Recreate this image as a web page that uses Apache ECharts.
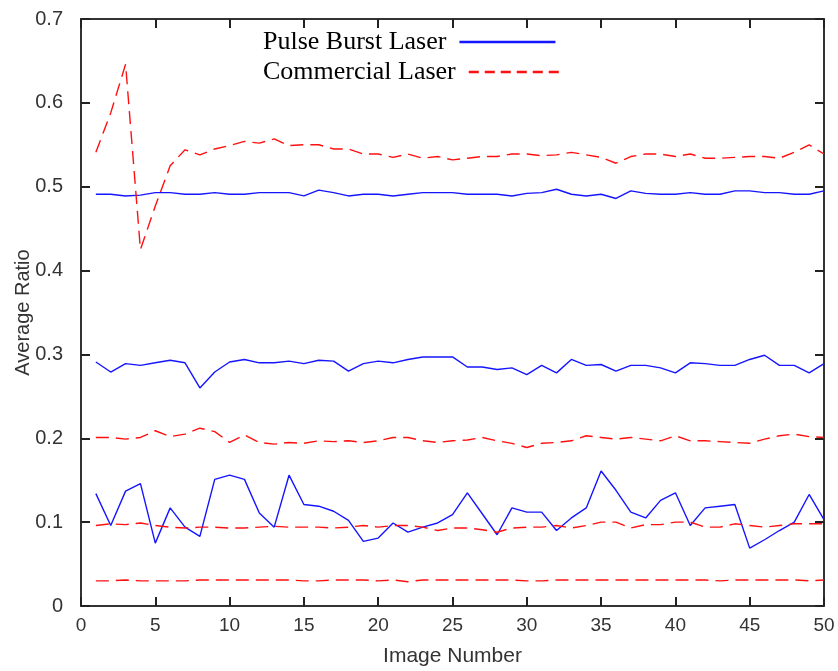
<!DOCTYPE html>
<head>
    <meta charset="utf-8">
    <title>Average Ratio</title>
    <script type="text/javascript" src="https://cdn.jsdelivr.net/npm/echarts@6/dist/echarts.min.js"></script>
</head>
<body style="margin:0;background:#fff">
    <div id="main" style="width:838px;height:671px"></div>

    <script type="text/javascript">
     // image numbers on x
     var imageNumber = [1,2,3,4,5,6,7,8,9,10,11,12,13,14,15,16,17,18,19,20,21,22,23,24,25,
                        26,27,28,29,30,31,32,33,34,35,36,37,38,39,40,41,42,43,44,45,46,47,48,49,50];

     // pulse burst laser (blue, solid)
     var pulseTop = [0.491,0.491,0.489,0.490,0.493,0.493,0.491,0.491,0.493,0.491,0.491,0.493,0.493,0.493,0.489,
                     0.496,0.493,0.489,0.491,0.491,0.489,0.491,0.493,0.493,0.493,0.491,0.491,0.491,0.489,0.492,
                     0.493,0.497,0.491,0.489,0.491,0.486,0.495,0.492,0.491,0.491,0.493,0.491,0.491,0.495,0.495,
                     0.493,0.493,0.491,0.491,0.495];
     var pulseMid = [0.291,0.279,0.289,0.287,0.290,0.293,0.290,0.260,0.279,0.291,0.294,0.290,0.290,0.292,0.289,
                     0.293,0.292,0.280,0.289,0.292,0.290,0.294,0.297,0.297,0.297,0.285,0.285,0.282,0.284,0.276,
                     0.287,0.278,0.294,0.287,0.288,0.280,0.287,0.287,0.284,0.278,0.290,0.289,0.287,0.287,0.294,
                     0.299,0.287,0.287,0.278,0.289];
     var pulseLow = [0.134,0.096,0.137,0.146,0.075,0.117,0.094,0.083,0.151,0.156,0.151,0.111,0.094,0.156,0.121,
                     0.119,0.113,0.102,0.077,0.081,0.099,0.088,0.094,0.099,0.109,0.135,0.110,0.085,0.117,0.112,
                     0.112,0.090,0.105,0.117,0.161,0.138,0.112,0.105,0.126,0.135,0.096,0.117,0.119,0.121,0.069,
                     0.079,0.090,0.100,0.133,0.103];

     // commercial laser (red, dashed)
     var commTop = [0.541,0.588,0.646,0.425,0.477,0.525,0.544,0.538,0.545,0.549,0.554,0.552,0.557,0.549,0.550,
                    0.550,0.545,0.545,0.539,0.539,0.535,0.539,0.534,0.536,0.532,0.534,0.536,0.536,0.539,0.539,
                    0.537,0.538,0.541,0.538,0.535,0.528,0.536,0.539,0.539,0.536,0.539,0.534,0.534,0.535,0.536,
                    0.536,0.534,0.541,0.550,0.539];
     var commMid = [0.201,0.201,0.199,0.201,0.209,0.202,0.205,0.212,0.208,0.195,0.204,0.195,0.193,0.195,0.194,
                    0.197,0.196,0.197,0.195,0.197,0.201,0.201,0.197,0.195,0.197,0.198,0.201,0.197,0.194,0.189,
                    0.194,0.195,0.197,0.203,0.201,0.199,0.201,0.199,0.197,0.203,0.197,0.197,0.196,0.195,0.194,
                    0.199,0.203,0.205,0.202,0.201];
     var commLow = [0.096,0.098,0.097,0.099,0.096,0.094,0.093,0.094,0.094,0.093,0.093,0.094,0.095,0.094,0.094,
                    0.094,0.093,0.094,0.096,0.094,0.096,0.096,0.094,0.090,0.093,0.093,0.091,0.088,0.093,0.094,
                    0.094,0.096,0.093,0.096,0.100,0.100,0.093,0.097,0.097,0.100,0.100,0.094,0.094,0.098,0.096,
                    0.094,0.096,0.098,0.098,0.098];
     var commBase = [0.030,0.030,0.031,0.030,0.030,0.030,0.030,0.031,0.031,0.031,0.031,0.031,0.031,0.031,0.030,
                     0.030,0.031,0.031,0.031,0.030,0.031,0.029,0.031,0.031,0.031,0.031,0.031,0.031,0.031,0.030,
                     0.030,0.031,0.031,0.031,0.031,0.031,0.031,0.031,0.031,0.031,0.031,0.031,0.030,0.031,0.031,
                     0.031,0.031,0.031,0.030,0.031];

     function pairs(ys) {
         return imageNumber.map(function (x, i) { return [x, ys[i]]; });
     }

     var blue = '#1515ff';
     var red = '#ff1010';
     var labelFont = '"Liberation Sans", sans-serif';

     function lineSeries(name, ys, color, dashed) {
         return {
             name: name,
             type: 'line',
             data: pairs(ys),
             symbol: 'none',
             lineStyle: { color: color, width: 1.4, type: dashed ? [13, 7] : 'solid' },
             itemStyle: { color: color }
         };
     }

     function legendFor(name, top, dash) {
         return {
             orient: 'horizontal',
             align: 'right',
             left: 258,
             top: top,
             itemWidth: 96,
             itemHeight: 14,
             itemStyle: { opacity: 0 },
             lineStyle: { width: 2.5, type: dash },
             textStyle: { fontFamily: '"Liberation Serif", serif', fontSize: 26, color: '#000', padding: [0, 8, 0, 0] },
             data: [name]
         };
     }

     function axisLine() {
         return { show: true, onZero: false, lineStyle: { color: '#333', width: 2 } };
     }
     // ticks pointing into the plot box
     function tick() {
         return { show: true, inside: true, length: 9, lineStyle: { color: '#222', width: 2 } };
     }
     var hiddenLabel = { show: true, color: 'rgba(0,0,0,0)' };

     var myChart = echarts.init(document.getElementById('main'));
     myChart.setOption({
         animation: false,
         grid: { left: 81, right: 14, top: 19, bottom: 65, outerBoundsMode: 'none' },
         legend: [
             legendFor('Pulse Burst Laser', 24, 'solid'),
             legendFor('Commercial Laser', 54, [10, 6])
         ],
         xAxis: [{
             type: 'value', min: 0, max: 50, interval: 5,
             name: 'Image Number', nameLocation: 'middle', nameGap: 40,
             nameTextStyle: { fontFamily: labelFont, fontSize: 21, color: '#333' },
             axisLine: axisLine(), axisTick: tick(), splitLine: { show: false },
             axisLabel: { fontFamily: labelFont, fontSize: 19, color: '#333', margin: 10 }
         }, {
             type: 'value', min: 0, max: 50, interval: 5, position: 'top',
             axisLine: axisLine(), axisTick: tick(), splitLine: { show: false }, axisLabel: hiddenLabel
         }],
         yAxis: [{
             type: 'value', min: 0, max: 0.7, interval: 0.1,
             name: 'Average Ratio', nameLocation: 'middle', nameGap: 48, nameMoveOverlap: false,
             nameTextStyle: { fontFamily: labelFont, fontSize: 20, color: '#333' },
             axisLine: axisLine(), axisTick: tick(), splitLine: { show: false },
             axisLabel: { fontFamily: labelFont, fontSize: 20, color: '#333', margin: 18 }
         }, {
             type: 'value', min: 0, max: 0.7, interval: 0.1, position: 'right',
             axisLine: axisLine(), axisTick: tick(), splitLine: { show: false }, axisLabel: hiddenLabel
         }],
         series: [
             lineSeries('Pulse Burst Laser', pulseTop, blue, false),
             lineSeries('Pulse Burst Laser', pulseMid, blue, false),
             lineSeries('Pulse Burst Laser', pulseLow, blue, false),
             lineSeries('Commercial Laser', commTop, red, true),
             lineSeries('Commercial Laser', commMid, red, true),
             lineSeries('Commercial Laser', commLow, red, true),
             lineSeries('Commercial Laser', commBase, red, true)
         ]
     });
    </script>
</body>
